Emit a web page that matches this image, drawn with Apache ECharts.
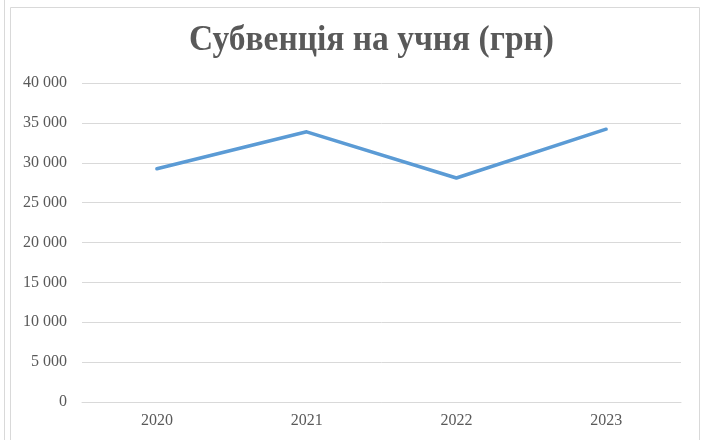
<!DOCTYPE html>
<html><head><meta charset="utf-8">
<script src="https://cdn.jsdelivr.net/npm/echarts@6/dist/echarts.min.js"></script>
<style>html,body{margin:0;padding:0;background:#fff}#c{width:702px;height:440px}</style>
</head><body><div id="c"></div>
<script>
const categories = ['2020', '2021', '2022', '2023'];
const values = [29250, 33880, 28090, 34210];
const titleText = 'Субвенція на учня (грн)';
const yMin = 0, yMax = 40000, yStep = 5000;

const chart = echarts.init(document.getElementById('c'));
chart.setOption({
  animation: false,
  grid: { left: 82, right: 21, top: 83, bottom: 38 },
  xAxis: {
    type: 'category', data: categories, boundaryGap: true,
    axisLine: { show: true, lineStyle: { color: '#d9d9d9' } },
    axisTick: { show: false },
    axisLabel: { fontFamily: 'Liberation Serif', fontSize: 16, color: '#595959', margin: 11 }
  },
  yAxis: {
    type: 'value', min: yMin, max: yMax, interval: yStep,
    axisLine: { show: false }, axisTick: { show: false },
    splitLine: { lineStyle: { color: '#d9d9d9', width: 1 } },
    axisLabel: {
      fontFamily: 'Liberation Serif', fontSize: 16, color: '#595959', margin: 15,
      formatter: v => String(v).replace(/\B(?=(\d{3})+(?!\d))/g, ' ')
    }
  },
  series: [{
    type: 'line', data: values, symbol: 'none',
    lineStyle: { color: '#5b9bd5', width: 3.5, cap: 'round', join: 'round' }
  }],
  graphic: [
    { type: 'rect', shape: { x: 10.5, y: 7.5, width: 689, height: 440 }, style: { fill: 'none', stroke: '#d9d9d9', lineWidth: 1 } },
    { type: 'line', shape: { x1: 4.5, y1: 0, x2: 4.5, y2: 440 }, style: { stroke: '#d9d9d9', lineWidth: 1 } },
    {
      type: 'text', x: 371.5, y: 41, scaleX: 0.93, scaleY: 1,
      style: {
        text: titleText, fontFamily: 'Liberation Serif', fontWeight: 'bold', fontSize: 36,
        fill: '#595959', align: 'center', verticalAlign: 'middle'
      }
    }
  ]
});
</script></body></html>
